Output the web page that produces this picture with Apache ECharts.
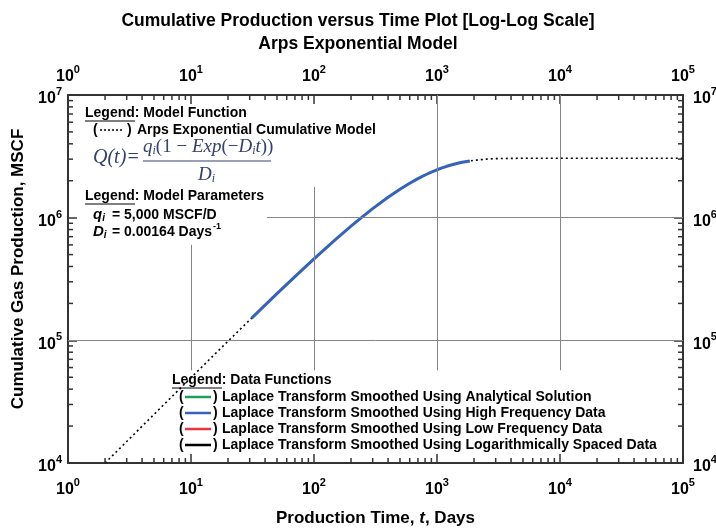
<!DOCTYPE html>
<html>
<head>
<meta charset="utf-8">
<script src="https://cdn.jsdelivr.net/npm/echarts@6/dist/echarts.min.js"></script>
<style>html,body{margin:0;padding:0;background:#fff}#c{width:716px;height:531px}</style>
</head>
<body>
<div id="c"></div>
<script>
// ---- Data ----
// Arps exponential model (dotted), t in days, Q in MSCF
const modelT = [2, 3, 5, 7, 10, 15, 20, 30, 50, 70, 100, 150, 200, 250, 300, 400, 500, 600, 700, 800, 900, 1000, 1100, 1200, 1300, 1400, 1500, 1600, 1800, 2000, 2500, 3000, 3500, 4000, 5000, 7000, 10000, 100000];
const modelQ = [9985, 14964, 24897, 34799, 49592, 74085, 98379, 146370, 240030, 330660, 461160, 665000, 852560, 1025470, 1184730, 1466740, 1706000, 1909110, 2081430, 2227870, 2351980, 2457380, 2546870, 2622790, 2687300, 2741920, 2788300, 2827740, 2889550, 2934050, 2998250, 3026500, 3038980, 3044460, 3047940, 3048750, 3048780, 3048780];
// Laplace transform smoothed (high frequency data), blue
const hfT = [31, 50, 70, 100, 150, 200, 250, 300, 400, 500, 600, 700, 800, 900, 1000, 1100, 1200, 1300, 1400, 1500, 1600, 1850];
const hfQ = [151125, 240030, 330660, 461160, 665000, 852560, 1025470, 1184730, 1466740, 1706000, 1909110, 2081430, 2227870, 2351980, 2457380, 2546870, 2622790, 2687300, 2741920, 2788300, 2827740, 2902030];
// minor tick positions
const xMinorTicks = [2,3,4,5,6,7,8,9, 20,30,40,50,60,70,80,90, 200,300,400,500,600,700,800,900, 2000,3000,4000,5000,6000,7000,8000,9000, 20000,30000,40000,50000,60000,70000,80000,90000];
const yMinorTicks = [20000,30000,40000,50000,60000,70000,80000,90000, 200000,300000,400000,500000,600000,700000,800000,900000, 2000000,3000000,4000000,5000000,6000000,7000000,8000000,9000000];
// visible grid-line segments (value, from, to)
const vGrid = [[10, 57000, 600000], [100, 57000, 1780000], [1000, 57000, 10000000], [10000, 57000, 10000000]];
const hGrid = [[1000000, 41.5, 100000], [100000, 1, 100000]];

const FF = '"Liberation Sans", Arial, Helvetica, sans-serif';
const SERIF = '"Liberation Serif", "Times New Roman", serif';
const blue = '#3563b9', green = '#1f9e55', red = '#e8383d';

const labelRich = {
  b: {fontSize: 16, fontWeight: 'bold', fontFamily: FF, color: '#000'},
  s: {fontSize: 11, fontWeight: 'bold', fontFamily: FF, color: '#000', padding: [0, 0, 14, 0]}
};
function fmt(v) { return '{b|10}{s|' + Math.round(Math.log10(v)) + '}'; }

const axisCommon = {
  type: 'log', logBase: 10,
  axisLine: {show: true, lineStyle: {color: '#333', width: 2}},
  axisTick: {show: true, inside: true, length: 9, lineStyle: {color: '#333', width: 1.5}},
  splitLine: {show: false},
  minorTick: {show: false},
  axisLabel: {formatter: fmt, rich: labelRich, showMinLabel: true, showMaxLabel: true}
};

const markData = [];
vGrid.forEach(g => markData.push([{coord: [g[0], g[1]]}, {coord: [g[0], g[2]]}]));
hGrid.forEach(g => markData.push([{coord: [g[1], g[0]]}, {coord: [g[2], g[0]]}]));

const minorData = xMinorTicks.map(v => [v, 10000, 0]).concat(yMinorTicks.map(v => [1, v, 1]));

function txt(x, y, text, font, extra) {
  const st = Object.assign({text: text, font: font, fill: '#000', verticalAlign: 'middle', textVerticalAlign: 'middle', align: 'left', textAlign: 'left'}, extra || {});
  return {type: 'text', x: x, y: y, z: 10, style: st};
}
function ln(x1, y1, x2, y2, stroke, w, dash) {
  return {type: 'line', z: 10, shape: {x1: x1, y1: y1, x2: x2, y2: y2}, style: {stroke: stroke, lineWidth: w, lineDash: dash || null}};
}
const B14 = 'bold 14px ' + FF;
const fCol = '#34406e';
const graphics = [
  txt(85, 113, 'Legend: Model Function', B14),
  ln(85, 121, 135, 121, '#000', 1),
  txt(93, 130, '(', B14),
  ln(100, 130, 123, 130, '#000', 1.5, [2, 2]),
  txt(127, 130, ')', B14),
  txt(137, 130, 'Arps Exponential Cumulative Model', B14),
  // formula
  txt(93, 158, 'Q(t)=', 'italic 20px ' + SERIF, {fill: fCol}),
  {type: 'text', x: 143, y: 147, z: 10, style: {
    text: '{i|q}{s|i}{n|(1 − }{i|Exp}{n|(−}{i|D}{s|i}{i|t}{n|))}',
    verticalAlign: 'middle', textVerticalAlign: 'middle', fill: fCol,
    rich: {
      i: {fontFamily: SERIF, fontStyle: 'italic', fontSize: 19, fill: fCol, color: fCol},
      n: {fontFamily: SERIF, fontSize: 19, fill: fCol, color: fCol},
      s: {fontFamily: SERIF, fontStyle: 'italic', fontSize: 12, fill: fCol, color: fCol, padding: [8, 0, 0, 0]}
    }}},
  ln(143, 161, 271, 161, fCol, 1.2),
  {type: 'text', x: 198, y: 175, z: 10, style: {
    text: '{i|D}{s|i}', verticalAlign: 'middle', textVerticalAlign: 'middle', fill: fCol,
    rich: {
      i: {fontFamily: SERIF, fontStyle: 'italic', fontSize: 19, fill: fCol, color: fCol},
      s: {fontFamily: SERIF, fontStyle: 'italic', fontSize: 12, fill: fCol, color: fCol, padding: [8, 0, 0, 0]}
    }}},
  txt(85, 196, 'Legend: Model Parameters', B14),
  ln(85, 204, 135, 204, '#000', 1),
  {type: 'text', x: 93, y: 215, z: 10, style: {
    text: '{i|q}{s|i}', verticalAlign: 'middle', textVerticalAlign: 'middle',
    rich: {i: {fontFamily: FF, fontStyle: 'italic', fontWeight: 'bold', fontSize: 15}, s: {fontFamily: FF, fontStyle: 'italic', fontWeight: 'bold', fontSize: 10, padding: [7, 0, 0, 0]}}}},
  txt(112, 215, '= 5,000 MSCF/D', B14),
  {type: 'text', x: 93, y: 232, z: 10, style: {
    text: '{i|D}{s|i}', verticalAlign: 'middle', textVerticalAlign: 'middle',
    rich: {i: {fontFamily: FF, fontStyle: 'italic', fontWeight: 'bold', fontSize: 15}, s: {fontFamily: FF, fontStyle: 'italic', fontWeight: 'bold', fontSize: 10, padding: [7, 0, 0, 0]}}}},
  {type: 'text', x: 112, y: 232, z: 10, style: {
    text: '{t|= 0.00164 Days}{p|-1}', verticalAlign: 'middle', textVerticalAlign: 'middle',
    rich: {t: {fontFamily: FF, fontWeight: 'bold', fontSize: 14}, p: {fontFamily: FF, fontWeight: 'bold', fontSize: 9, padding: [0, 0, 11, 1]}}}},
  // bottom legend
  txt(172, 380, 'Legend: Data Functions', B14),
  ln(172, 388, 222, 388, '#000', 1)
];
const rows = [
  [green, 'Laplace Transform Smoothed Using Analytical Solution'],
  [blue, 'Laplace Transform Smoothed Using High Frequency Data'],
  [red, 'Laplace Transform Smoothed Using Low Frequency Data'],
  ['#000', 'Laplace Transform Smoothed Using Logarithmically Spaced Data']
];
rows.forEach((r, i) => {
  const y = 397 + i * 16;
  graphics.push(txt(179, y, '(', B14));
  graphics.push(ln(185, y, 211, y, r[0], 2.5));
  graphics.push(txt(213, y, ')', B14));
  graphics.push(txt(222, y, r[1], B14));
});

const chart = echarts.init(document.getElementById('c'), null, {renderer: 'canvas'});
chart.setOption({
  animation: false,
  backgroundColor: '#fff',
  title: {
    text: 'Cumulative Production versus Time Plot [Log-Log Scale]\nArps Exponential Model',
    left: 'center', top: 5,
    textStyle: {fontFamily: FF, fontWeight: 'bold', fontSize: 17.5, lineHeight: 23, color: '#000'}
  },
  grid: {left: 68, right: 33, top: 95, bottom: 68, containLabel: false, outerBoundsMode: 'none'},
  xAxis: [
    Object.assign({}, axisCommon, {
      min: 1, max: 100000, position: 'bottom',
      axisLabel: Object.assign({}, axisCommon.axisLabel, {margin: 14}),
      name: 'Production Time, {i|t}, Days', nameLocation: 'middle', nameGap: 47,
      nameTextStyle: {fontFamily: FF, fontWeight: 'bold', fontSize: 17, color: '#000',
        rich: {i: {fontFamily: FF, fontWeight: 'bold', fontStyle: 'italic', fontSize: 17, color: '#000'}}}
    }),
    Object.assign({}, axisCommon, {
      min: 1, max: 100000, position: 'top',
      axisLabel: Object.assign({}, axisCommon.axisLabel, {margin: 6})
    })
  ],
  yAxis: [
    Object.assign({}, axisCommon, {
      min: 10000, max: 10000000, position: 'left',
      axisLabel: Object.assign({}, axisCommon.axisLabel, {margin: 6, padding: [8, 0, 0, 0]}),
      name: 'Cumulative Gas Production, MSCF', nameLocation: 'middle', nameGap: 35,
      nameTextStyle: {fontFamily: FF, fontWeight: 'bold', fontSize: 17, color: '#000', padding: [0, 0, 0, 20]}
    }),
    Object.assign({}, axisCommon, {
      min: 10000, max: 10000000, position: 'right',
      axisLabel: Object.assign({}, axisCommon.axisLabel, {margin: 10, padding: [8, 0, 0, 0]})
    })
  ],
  series: [
    {
      name: 'Arps Exponential Cumulative Model', type: 'line', xAxisIndex: 0, yAxisIndex: 0,
      data: modelT.map((t, i) => [t, modelQ[i]]),
      showSymbol: false, symbol: 'none', z: 3,
      lineStyle: {color: '#000', width: 1.6, type: [2, 3]},
      markLine: {
        silent: true, symbol: 'none', animation: false,
        label: {show: false},
        lineStyle: {color: '#858585', width: 1, type: 'solid'},
        emphasis: {disabled: true},
        data: markData
      }
    },
    {
      name: 'Laplace Transform Smoothed Using High Frequency Data', type: 'line', xAxisIndex: 0, yAxisIndex: 0,
      data: hfT.map((t, i) => [t, hfQ[i]]),
      showSymbol: false, symbol: 'none', z: 4,
      lineStyle: {color: blue, width: 3}
    },
    {
      type: 'custom', xAxisIndex: 0, yAxisIndex: 0, z: 5, silent: true,
      data: minorData, encode: {x: 0, y: 1},
      renderItem: function (params, api) {
        const v0 = api.value(0), v1 = api.value(1), k = api.value(2);
        const L = 5, st = {stroke: '#333', lineWidth: 1.5};
        if (k === 0) {
          const a = api.coord([v0, 10000]), b = api.coord([v0, 10000000]);
          return {type: 'group', children: [
            {type: 'line', shape: {x1: a[0], y1: a[1], x2: a[0], y2: a[1] - L}, style: st},
            {type: 'line', shape: {x1: b[0], y1: b[1], x2: b[0], y2: b[1] + L}, style: st}
          ]};
        } else {
          const a = api.coord([1, v1]), b = api.coord([100000, v1]);
          return {type: 'group', children: [
            {type: 'line', shape: {x1: a[0], y1: a[1], x2: a[0] + L, y2: a[1]}, style: st},
            {type: 'line', shape: {x1: b[0], y1: b[1], x2: b[0] - L, y2: b[1]}, style: st}
          ]};
        }
      }
    }
  ],
  graphic: graphics
});
</script>
</body>
</html>
